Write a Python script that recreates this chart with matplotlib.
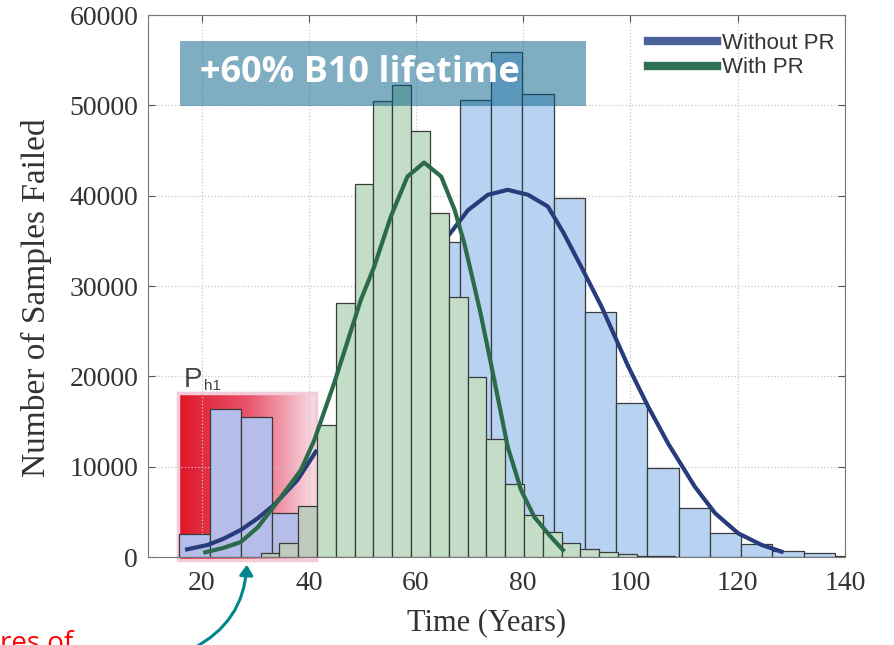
import numpy as np
import matplotlib
matplotlib.use('Agg')
from matplotlib import pyplot as plt
from matplotlib.patches import Rectangle, FancyArrowPatch
from matplotlib.lines import Line2D
from matplotlib.colors import LinearSegmentedColormap

# histogram bins (years) and counts
blue_start, blue_width = 15.7, 5.83
blue_counts = [2550, 16350, 15540, 4840, 5200, 12000, 20000, 28000, 34900, 50600, 55900,
               51300, 39700, 27100, 17100, 9900, 5400, 2700, 1400, 700, 400, 150]
green_start, green_width = 31.0, 3.51
green_counts = [400, 1520, 5700, 14600, 28100, 41300, 50500, 52200, 47200, 38100, 28800,
                19900, 13100, 8100, 4700, 2750, 1550, 870, 520, 300, 150, 80]

# fitted curves
blue_left_t = [17.3, 21.1, 24.0, 27.3, 30.5, 33.5, 37.9, 41.3]
blue_left_v = [850, 1330, 2000, 2990, 4300, 5760, 8530, 11660]
blue_right_t = [66.2, 69.7, 73.4, 77.1, 80.9, 84.6, 87.5, 90.8, 94.6, 97.1, 99.6, 103.3,
                107.0, 112.0, 115.8, 120.1, 124.5, 128.2]
blue_right_v = [35700, 38400, 40100, 40650, 40100, 38800, 35900, 32150, 27720, 24400, 21080,
                16650, 12590, 7790, 4840, 2620, 1330, 590]
green_t = [20.7, 24.0, 27.3, 30.5, 33.5, 36.0, 38.5, 41.0, 44.7, 47.3, 49.7, 52.2, 55.3, 58.4,
           61.5, 64.7, 67.2, 69.0, 70.9, 72.1, 74.6, 77.1, 79.6, 82.1, 85.2, 87.4]
green_v = [520, 1000, 1650, 3300, 5600, 7600, 9600, 12900, 19200, 24000, 28460, 32150, 37690,
           42120, 43670, 42120, 38430, 34740, 29930, 26800, 19600, 12200, 7400, 4400, 2200, 780]

box_x = (15.6, 41.4)   # P_h1 region
box_top = 18160

serif = 'Liberation Serif'
sans = 'Liberation Sans'

fig = plt.figure(figsize=(8.94, 6.45), dpi=100)
ax = fig.add_axes([0.1655, 0.1364, 0.7796, 0.8403])

# red gradient box
cmap = LinearSegmentedColormap.from_list('ph1', ['#df1528', '#e9536a', '#f8dfe8'])
grad = np.linspace(0, 1, 256).reshape(1, -1)
ax.imshow(grad, cmap=cmap, extent=(box_x[0], box_x[1], -330, box_top), aspect='auto',
          zorder=0.3, clip_on=False)
ax.add_patch(Rectangle((box_x[0], -330), box_x[1] - box_x[0], box_top + 330, fill=False,
                       edgecolor='#f3cbd9', lw=2.5, zorder=0.35, clip_on=False))

blue_left = blue_start + blue_width * np.arange(len(blue_counts))
blue_cols = ['#b5bde8' if l < box_x[1] - 1 else '#b8d3f1' for l in blue_left]
ax.bar(blue_left, blue_counts, width=blue_width, align='edge', color=blue_cols,
       edgecolor='#3a3a3a', lw=0.9, zorder=2)
ax.plot(blue_left_t, blue_left_v, color='#283c7c', lw=3, zorder=3, solid_joinstyle='round')
ax.plot(blue_right_t, blue_right_v, color='#283c7c', lw=3, zorder=3, solid_joinstyle='round')

green_left = green_start + green_width * np.arange(len(green_counts))
green_cols = ['#c0c9bd' if l < box_x[1] - 1 else '#c3ddc6' for l in green_left]
ax.bar(green_left, green_counts, width=green_width, align='edge', color=green_cols,
       edgecolor='#3a3a3a', lw=0.9, zorder=4)
ax.plot(green_t, green_v, color='#2b6a4a', lw=3, zorder=5, solid_joinstyle='round')

ax.set_xlim(10, 140)
ax.set_ylim(0, 60000)
ax.set_xticks(range(20, 141, 20))
ax.set_yticks(range(0, 60001, 10000))
ax.set_axisbelow(True)
ax.grid(True, ls=':', color='#c8c8c8', lw=0.9)
ax.tick_params(direction='in', length=5, top=True, right=True, labelsize=20,
               labelcolor='#333333', color='#555555', pad=7)
ax.tick_params(axis='x', pad=10)
for lab in ax.get_xticklabels() + ax.get_yticklabels():
    lab.set_family(serif)
for s in ax.spines.values():
    s.set_color('#777777')

ax.set_xlabel('Time (Years)', fontsize=22, family=serif, color='#333333')
ax.set_ylabel('Number of Samples Failed', fontsize=24, family=serif, color='#333333')
ax.xaxis.set_label_coords(0.486, -0.094)
ax.yaxis.set_label_coords(-0.137, 0.478)

ax.text(16.64, 18830, 'P', fontsize=20, family=sans, color='#444444', va='baseline', zorder=6)
ax.text(20.37, 18500, 'h1', fontsize=11, family=sans, color='#444444', va='baseline', zorder=6)

handles = [Line2D([], [], color='#4a6199', lw=6), Line2D([], [], color='#2e7053', lw=6)]
ax.legend(handles, ['Without PR', 'With PR'], loc='upper left',
          bbox_to_anchor=(648 / 894, 1 - 33 / 645), bbox_transform=fig.transFigure,
          frameon=False, borderpad=0, borderaxespad=0, handlelength=3.1, handletextpad=0.25,
          labelspacing=0.15, prop={'family': sans, 'size': 16}, labelcolor='#333333')

# banner
fig.add_artist(Rectangle((180 / 894, 1 - 105.7 / 645), 406 / 894, 64.7 / 645,
                         transform=fig.transFigure, facecolor='#005c85', alpha=0.5,
                         lw=0, zorder=5))
fig.text(200 / 894, 1 - 73 / 645, '+60% B10 lifetime', fontsize=26, family='Open Sans',
         weight='bold', color='white', va='center', ha='left', zorder=6)

# cut-off red note and teal arrow
fig.text(73 / 894, -6 / 645, 'Failures of', fontsize=20, family='Open Sans', color='#ff0000',
         ha='right', va='baseline')
fig.add_artist(FancyArrowPatch((190, -5), (247, 83), transform=None,
                               connectionstyle='arc3,rad=0.3', arrowstyle='-|>,head_length=6,head_width=4',
                               color='#00868f', lw=2.2, zorder=6))

fig.savefig('out.png', dpi=100)
